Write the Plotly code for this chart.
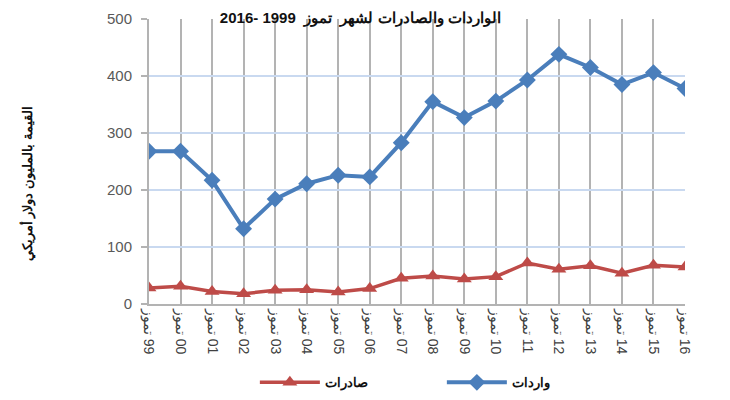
import plotly.graph_objects as go

years = ["99", "00", "01", "02", "03", "04", "05", "06", "07", "08",
         "09", "10", "11", "12", "13", "14", "15", "16"]
month = "تموز"
tick_labels = [month + "\u200e " + y for y in years]
imports = [268, 268, 217, 132, 184, 211, 226, 223, 283, 355,
           327, 356, 393, 438, 415, 385, 406, 378]
exports = [28, 31, 22, 18, 24, 25, 21, 27, 45, 49,
           44, 48, 72, 61, 67, 54, 68, 65]

title_text = "الواردات والصادرات لشهر  تموز  1999 -2016"
y_title = "القيمة بالمليون دولار أمريكي"
name_exports = "صادرات"
name_imports = "واردات"

x_idx = list(range(len(years)))

fig = go.Figure()
fig.add_trace(go.Scatter(
    x=x_idx, y=exports, name="<b>" + name_exports + "</b>", mode="lines+markers",
    line=dict(color="#be4b48", width=3.5),
    marker=dict(symbol="triangle-up", size=13, color="#be4b48"),
))
fig.add_trace(go.Scatter(
    x=x_idx, y=imports, name="<b>" + name_imports + "</b>", mode="lines+markers",
    line=dict(color="#4a7ebb", width=4),
    marker=dict(symbol="diamond", size=13, color="#4a7ebb"),
))

font_fam = "Liberation Sans, Arial, sans-serif"

fig.update_layout(
    width=722, height=392,
    margin=dict(l=141, r=45, t=11, b=96, autoexpand=False),
    paper_bgcolor="white", plot_bgcolor="white",
    font=dict(family=font_fam, color="#404040"),
    title=dict(text="<b>" + title_text + "</b>", x=0.488, xref="container",
               xanchor="center", y=0.975, yref="container", yanchor="middle",
               font=dict(size=15, color="#111111", family=font_fam)),
    showlegend=True,
    legend=dict(orientation="h", x=0.1975, y=-0.275, xanchor="left", yanchor="middle",
                font=dict(size=13, color="#111111", family=font_fam),
                itemwidth=60, entrywidth=112, entrywidthmode="pixels",
                bgcolor="rgba(0,0,0,0)"),
    xaxis=dict(
        range=[0, len(years) - 1], tickmode="array", tickvals=x_idx,
        ticktext=tick_labels, tickangle=90,
        tickfont=dict(size=14, color="#404040", family=font_fam),
        showgrid=True, gridcolor="#b3b3b3", gridwidth=2,
        showline=True, linecolor="#b3b3b3", linewidth=2,
        ticks="", zeroline=False, fixedrange=True, automargin=False,
    ),
    yaxis=dict(
        range=[0, 500], tickvals=[0, 100, 200, 300, 400, 500],
        tickfont=dict(size=15, color="#595959", family=font_fam),
        ticklabelstandoff=6,
        showgrid=True, gridcolor="#c9d9f0", gridwidth=1.5,
        showline=True, linecolor="#b3b3b3", linewidth=2,
        ticks="outside", ticklen=6, tickcolor="#b3b3b3", tickwidth=1.5,
        zeroline=False, fixedrange=True, automargin=False,
    ),
    annotations=[
        dict(text="<b>" + y_title + "</b>", xref="paper", yref="paper",
             x=-0.2276, y=0.42, xanchor="center", yanchor="middle",
             textangle=-90, showarrow=False,
             font=dict(size=13, color="#111111", family=font_fam)),
    ],
    shapes=[
        dict(type="line", xref="paper", yref="paper", x0=1.0765, x1=1.0765,
             y0=-0.34, y1=1.07, line=dict(color="#b8b8b8", width=3)),
    ],
)

fig.write_html("out.html")
